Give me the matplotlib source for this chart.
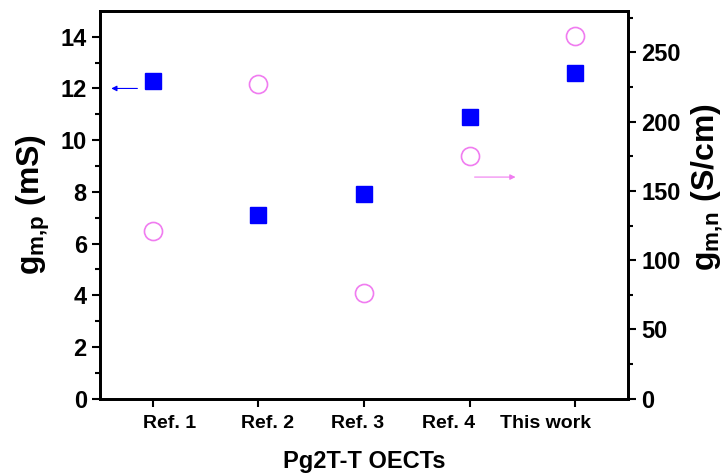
import matplotlib
matplotlib.use("Agg")
import matplotlib.pyplot as plt
import numpy as np

# data
categories = ["Ref. 1", "Ref. 2", "Ref. 3", "Ref. 4", "This work"]
gm_p = [12.3, 7.1, 7.9, 10.9, 12.6]        # mS, left axis (squares)
gm_n = [121, 227, 76, 175, 262]            # S/cm, right axis (circles)

plt.rcParams['font.family'] = ['Liberation Sans', 'DejaVu Sans']
plt.rcParams['font.weight'] = 'bold'
plt.rcParams['mathtext.fontset'] = 'custom'
plt.rcParams['mathtext.rm'] = 'Liberation Sans:bold'
plt.rcParams['mathtext.bf'] = 'Liberation Sans:bold'
plt.rcParams['mathtext.it'] = 'Liberation Sans:bold'

BLUE = '#0000FF'
PINK = '#F07CF0'

fig = plt.figure(figsize=(7.27, 4.74), dpi=100)
ax1 = fig.add_axes([0.1376, 0.159, 0.7264, 0.818])
ax2 = ax1.twinx()

x = np.arange(1, len(categories) + 1)

ax1.plot(x, gm_p, linestyle='none', marker='s', markersize=11,
         color=BLUE, markeredgecolor=BLUE, zorder=3)
ax2.plot(x, gm_n, linestyle='none', marker='o', markersize=13,
         markerfacecolor='white', markeredgecolor=PINK, markeredgewidth=1.2,
         zorder=3)

# axis-pointing arrows
ax1.annotate('', xy=(0.58, 12.0), xytext=(0.88, 12.0),
             arrowprops=dict(arrowstyle='-|>', color=BLUE, lw=0.8,
                             mutation_scale=8))
ax2.annotate('', xy=(4.46, 160), xytext=(4.02, 160),
             arrowprops=dict(arrowstyle='-|>', color=PINK, lw=0.8,
                             mutation_scale=8))

ax1.set_xlim(0.5, 5.5)
ax1.set_ylim(0, 15)
ax2.set_ylim(0, 280)

# major ticks at the points, labels sit a bit off them (as in the original)
ax1.set_xticks(x)
ax1.set_xticklabels([])
label_pos = [1.16, 2.09, 2.94, 3.80, 4.72]
ax1.set_xticks(label_pos, minor=True)
ax1.set_xticklabels(categories, minor=True, fontsize=14, fontweight='bold')
ax1.tick_params(axis='x', which='minor', length=0, pad=12)
ax1.tick_params(axis='x', which='major', length=6, width=1.5, direction='out')

ax1.set_yticks(np.arange(0, 15, 2))
ax1.set_yticks(np.arange(1, 15, 2), minor=True)
ax2.set_yticks(np.arange(0, 251, 50))
ax2.set_yticks(np.arange(25, 276, 50), minor=True)

for ax in (ax1, ax2):
    ax.tick_params(axis='y', which='major', length=6, width=1.5,
                   direction='out', labelsize=17)
    ax.tick_params(axis='y', which='minor', length=3.5, width=1.5,
                   direction='out')
    for sp in ax.spines.values():
        sp.set_linewidth(2)
    for lab in ax.get_yticklabels():
        lab.set_fontweight('bold')

ax1.set_ylabel(r'$\mathbf{g_{m{,}p}}$ (mS)', fontsize=23, fontweight='bold',
               labelpad=6)
ax2.set_ylabel(r'$\mathbf{g_{m{,}n}}$ (S/cm)', fontsize=23, fontweight='bold',
               labelpad=6)
ax2.yaxis.label.set_y(0.545)
ax1.set_xlabel('Pg2T-T OECTs', fontsize=17, fontweight='bold', labelpad=13)

fig.savefig('out.png', dpi=100)
